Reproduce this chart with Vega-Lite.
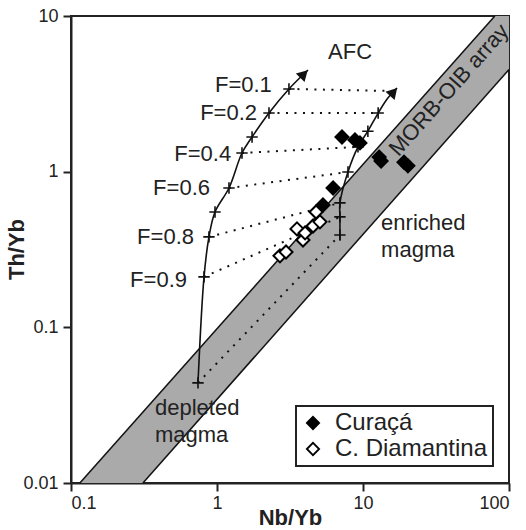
{
  "$schema": "https://vega.github.io/schema/vega-lite/v6.json",
  "width": 438,
  "height": 467,
  "autosize": {"type": "none"},
  "padding": {"left": 71, "top": 16, "right": 17, "bottom": 47},
  "background": "white",
  "config": {
    "font": "Liberation Sans",
    "view": {"stroke": "#222", "strokeWidth": 2},
    "axis": {
      "grid": false,
      "domainColor": "#222",
      "domainWidth": 2,
      "tickColor": "#222",
      "tickWidth": 2,
      "tickSize": 8,
      "labelFontSize": 18,
      "labelColor": "#222",
      "labelFont": "Liberation Sans",
      "titleFont": "Liberation Sans",
      "titleFontSize": 22,
      "titleFontWeight": "bold",
      "titleColor": "#222"
    },
    "legend": {
      "orient": "none",
      "legendX": 225,
      "legendY": 390,
      "strokeColor": "#222",
      "strokeWidth": 2,
      "fillColor": "white",
      "padding": 5,
      "labelFontSize": 24,
      "labelFont": "Liberation Sans",
      "labelColor": "#222",
      "labelOffset": 10,
      "symbolSize": 150,
      "symbolType": "diamond",
      "symbolStrokeColor": "black",
      "symbolStrokeWidth": 1.8,
      "rowPadding": 2
    }
  },
  "datasets": {
    "band": [
      {"x": 0.115, "top": 0.01, "bot": 0.01},
      {"x": 0.311, "top": 0.0287, "bot": 0.01},
      {"x": 80, "top": 10, "bot": 3.59},
      {"x": 100, "top": 10, "bot": 4.54}
    ],
    "edges": [
      {"edge": "upper", "x": 0.115, "y": 0.01},
      {"edge": "upper", "x": 80, "y": 10},
      {"edge": "lower", "x": 0.311, "y": 0.01},
      {"edge": "lower", "x": 100, "y": 4.54}
    ],
    "dots": [
      {"row": "F=1.0", "x": 0.741, "y": 0.044},
      {"row": "F=1.0", "x": 6.95, "y": 0.392},
      {"row": "F=0.9", "x": 0.815, "y": 0.211},
      {"row": "F=0.9", "x": 6.95, "y": 0.512},
      {"row": "F=0.8", "x": 0.881, "y": 0.381},
      {"row": "F=0.8", "x": 6.95, "y": 0.63},
      {"row": "F=0.6", "x": 1.208, "y": 0.785},
      {"row": "F=0.6", "x": 7.89, "y": 0.995},
      {"row": "F=0.4", "x": 1.483, "y": 1.318},
      {"row": "F=0.4", "x": 9.24, "y": 1.442},
      {"row": "F=0.2", "x": 2.27, "y": 2.384},
      {"row": "F=0.2", "x": 12.7, "y": 2.38},
      {"row": "F=0.1", "x": 3.11, "y": 3.4},
      {"row": "F=0.1", "x": 15.1, "y": 3.3}
    ],
    "curves": [
      {"c": "left", "i": 0, "x": 0.741, "y": 0.044},
      {"c": "left", "i": 1, "x": 0.815, "y": 0.211},
      {"c": "left", "i": 2, "x": 0.881, "y": 0.381},
      {"c": "left", "i": 3, "x": 0.969, "y": 0.551},
      {"c": "left", "i": 4, "x": 1.208, "y": 0.785},
      {"c": "left", "i": 5, "x": 1.483, "y": 1.318},
      {"c": "left", "i": 6, "x": 1.738, "y": 1.671},
      {"c": "left", "i": 7, "x": 2.27, "y": 2.384},
      {"c": "left", "i": 8, "x": 3.11, "y": 3.4},
      {"c": "left", "i": 9, "x": 4.2, "y": 4.5},
      {"c": "right", "i": 0, "x": 6.95, "y": 0.364},
      {"c": "right", "i": 1, "x": 6.95, "y": 0.392},
      {"c": "right", "i": 2, "x": 6.95, "y": 0.512},
      {"c": "right", "i": 3, "x": 6.95, "y": 0.63},
      {"c": "right", "i": 4, "x": 7.89, "y": 0.995},
      {"c": "right", "i": 5, "x": 9.24, "y": 1.442},
      {"c": "right", "i": 6, "x": 10.8, "y": 1.82},
      {"c": "right", "i": 7, "x": 12.7, "y": 2.38},
      {"c": "right", "i": 8, "x": 14.8, "y": 2.97},
      {"c": "right", "i": 9, "x": 17.1, "y": 3.45}
    ],
    "crosses": [
      {"x": 0.741, "y": 0.044},
      {"x": 0.815, "y": 0.211},
      {"x": 0.881, "y": 0.381},
      {"x": 0.969, "y": 0.551},
      {"x": 1.208, "y": 0.785},
      {"x": 1.483, "y": 1.318},
      {"x": 1.738, "y": 1.671},
      {"x": 2.27, "y": 2.384},
      {"x": 3.11, "y": 3.4},
      {"x": 6.95, "y": 0.392},
      {"x": 6.95, "y": 0.512},
      {"x": 6.95, "y": 0.63},
      {"x": 7.89, "y": 0.995},
      {"x": 9.24, "y": 1.442},
      {"x": 10.8, "y": 1.82},
      {"x": 12.7, "y": 2.38}
    ],
    "samples": [
      {"group": "Curaçá", "x": 7.18, "y": 1.67},
      {"group": "Curaçá", "x": 8.81, "y": 1.6},
      {"group": "Curaçá", "x": 9.53, "y": 1.53},
      {"group": "Curaçá", "x": 12.9, "y": 1.24},
      {"group": "Curaçá", "x": 13.3, "y": 1.17},
      {"group": "Curaçá", "x": 19.1, "y": 1.15},
      {"group": "Curaçá", "x": 20.3, "y": 1.09},
      {"group": "Curaçá", "x": 6.24, "y": 0.785},
      {"group": "Curaçá", "x": 5.32, "y": 0.611},
      {"group": "C. Diamantina", "x": 2.7, "y": 0.288},
      {"group": "C. Diamantina", "x": 2.97, "y": 0.305},
      {"group": "C. Diamantina", "x": 3.53, "y": 0.429},
      {"group": "C. Diamantina", "x": 3.88, "y": 0.364},
      {"group": "C. Diamantina", "x": 4.01, "y": 0.404},
      {"group": "C. Diamantina", "x": 4.55, "y": 0.448},
      {"group": "C. Diamantina", "x": 4.77, "y": 0.551},
      {"group": "C. Diamantina", "x": 5.07, "y": 0.476}
    ],
    "flabels": [
      {"t": "F=0.1", "x": 2.45, "y": 3.61},
      {"t": "F=0.2", "x": 1.94, "y": 2.38},
      {"t": "F=0.4", "x": 1.29, "y": 1.3},
      {"t": "F=0.6", "x": 0.924, "y": 0.785},
      {"t": "F=0.8", "x": 0.718, "y": 0.381},
      {"t": "F=0.9", "x": 0.643, "y": 0.201}
    ],
    "notes": [
      {"t": "AFC", "x": 5.76, "y": 5.88},
      {"t": "depleted", "x": 0.376, "y": 0.0303},
      {"t": "magma", "x": 0.376, "y": 0.0204},
      {"t": "enriched", "x": 13.3, "y": 0.469},
      {"t": "magma", "x": 13.3, "y": 0.314}
    ]
  },
  "encoding": {
    "x": {
      "field": "x",
      "type": "quantitative",
      "scale": {"type": "log", "domain": [0.1, 100], "nice": false},
      "axis": {
        "title": "Nb/Yb",
        "values": [0.1, 1, 10, 100],
        "format": "~g",
        "labelPadding": 3,
        "titleX": 219,
        "titleY": 41,
        "titleBaseline": "alphabetic",
        "titleAlign": "center"
      }
    },
    "y": {
      "field": "y",
      "type": "quantitative",
      "scale": {"type": "log", "domain": [0.01, 10], "nice": false},
      "axis": {
        "title": "Th/Yb",
        "values": [0.01, 0.1, 1, 10],
        "format": "~g",
        "labelPadding": 5,
        "titleX": -55,
        "titleY": 233,
        "titleAngle": -90,
        "titleBaseline": "middle",
        "titleAlign": "center"
      }
    }
  },
  "layer": [
    {
      "data": {"name": "band"},
      "mark": {"type": "area", "fill": "#aaaaaa", "fillOpacity": 1, "interpolate": "linear"},
      "encoding": {
        "x": {"field": "x", "type": "quantitative"},
        "y": {"field": "top", "type": "quantitative"},
        "y2": {"field": "bot"}
      }
    },
    {
      "data": {"name": "edges"},
      "mark": {"type": "line", "color": "#111", "strokeWidth": 1.5},
      "encoding": {"detail": {"field": "edge"}}
    },
    {
      "data": {"name": "dots"},
      "mark": {"type": "line", "color": "#111", "strokeWidth": 2, "strokeDash": [2, 6.5], "strokeCap": "butt"},
      "encoding": {"detail": {"field": "row"}}
    },
    {
      "data": {"name": "curves"},
      "mark": {"type": "line", "color": "#111", "strokeWidth": 1.6, "interpolate": "catmull-rom"},
      "encoding": {
        "detail": {"field": "c"},
        "order": {"field": "i", "type": "quantitative"}
      }
    },
    {
      "data": {"values": [{"x": 3.94, "y": 4.24}]},
      "mark": {"type": "point", "shape": "triangle-up", "filled": true, "color": "#111", "size": 150, "angle": 45, "opacity": 1}
    },
    {
      "data": {"values": [{"x": 16.2, "y": 3.25}]},
      "mark": {"type": "point", "shape": "triangle-up", "filled": true, "color": "#111", "size": 150, "angle": 42, "opacity": 1}
    },
    {
      "data": {"name": "crosses"},
      "mark": {"type": "point", "shape": "M-1,0L1,0M0,-1L0,1", "filled": false, "stroke": "#111", "strokeWidth": 1.6, "size": 130, "opacity": 1}
    },
    {
      "data": {"name": "samples"},
      "mark": {"type": "point", "shape": "diamond", "filled": true, "stroke": "black", "strokeWidth": 2, "size": 170, "opacity": 1},
      "encoding": {
        "fill": {
          "field": "group",
          "type": "nominal",
          "scale": {"domain": ["Curaçá", "C. Diamantina"], "range": ["black", "white"]},
          "legend": {"title": null}
        }
      }
    },
    {
      "data": {"name": "flabels"},
      "mark": {"type": "text", "align": "right", "baseline": "middle", "fontSize": 22, "color": "#222", "dx": -2},
      "encoding": {"text": {"field": "t"}}
    },
    {
      "data": {"name": "notes"},
      "mark": {"type": "text", "align": "left", "baseline": "middle", "fontSize": 22, "color": "#222"},
      "encoding": {"text": {"field": "t"}}
    },
    {
      "data": {"values": [{"t": "MORB-OIB array", "x": 38.8, "y": 3.35}]},
      "mark": {"type": "text", "align": "center", "baseline": "middle", "fontSize": 22, "color": "#222", "angle": 311.6},
      "encoding": {"text": {"field": "t"}}
    }
  ]
}
